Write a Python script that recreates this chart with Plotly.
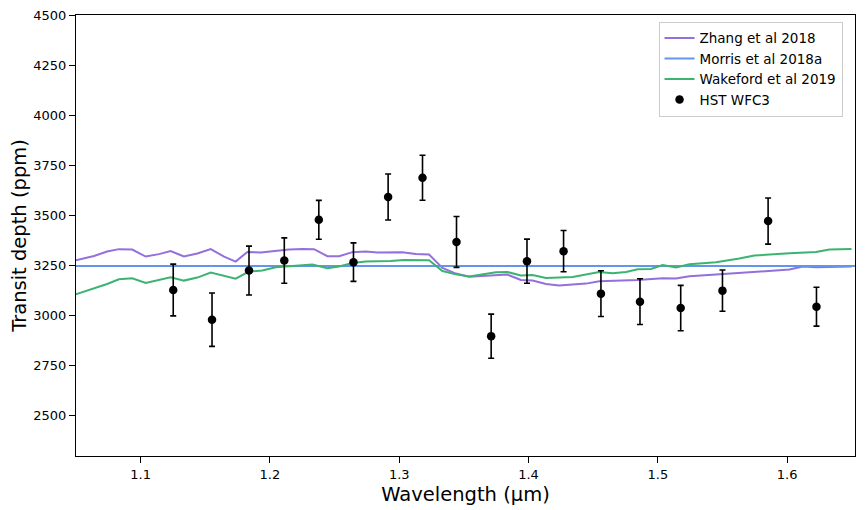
import plotly.graph_objects as go

# HST WFC3 spectrum
wave_obs = [1.1252, 1.1552, 1.1838, 1.2111, 1.2378, 1.2646, 1.2914, 1.3180, 1.3443,
            1.3711, 1.3988, 1.4271, 1.4560, 1.4862, 1.5177, 1.5500, 1.5853, 1.6227]
depth_obs = [3128, 2980, 3225, 3275, 3478, 3267, 3592, 3688, 3368,
             2898, 3272, 3322, 3110, 3070, 3038, 3125, 3472, 3045]
err_obs = [129, 133, 122, 113, 97, 96, 115, 112, 127,
           110, 110, 103, 114, 114, 113, 103, 115, 97]

# Zhang et al 2018 model
wave_zhang = [1.0491, 1.0639, 1.0741, 1.0832, 1.0935, 1.1039, 1.1142, 1.1232, 1.1335,
              1.1438, 1.1542, 1.1645, 1.1735, 1.1825, 1.1929, 1.2032, 1.2148, 1.2251,
              1.2341, 1.2444, 1.2535, 1.2638, 1.2741, 1.2831, 1.3025, 1.3128, 1.3231,
              1.3334, 1.3438, 1.3541, 1.3837, 1.3941, 1.4031, 1.4135, 1.4237, 1.4444,
              1.4547, 1.4844, 1.5037, 1.5141, 1.5244, 1.5450, 1.5708, 1.6018, 1.6121,
              1.6224, 1.6498]
depth_zhang = [3275, 3298, 3320, 3332, 3330, 3295, 3307, 3322, 3295,
               3310, 3332, 3295, 3270, 3318, 3315, 3323, 3330, 3333,
               3332, 3297, 3297, 3317, 3320, 3315, 3317, 3308, 3305,
               3238, 3210, 3194, 3205, 3178, 3175, 3158, 3150, 3160,
               3172, 3178, 3187, 3185, 3197, 3205, 3218, 3230, 3245,
               3242, 3245]

# Morris et al 2018a (flat line)
wave_morris = [1.05, 1.6525]
depth_morris = [3248, 3248]

# Wakeford et al 2019 model
wave_wake = [1.0491, 1.0600, 1.0741, 1.0832, 1.0935, 1.1039, 1.1129, 1.1232, 1.1335,
             1.1438, 1.1542, 1.1645, 1.1735, 1.1838, 1.1941, 1.2045, 1.2148, 1.2251,
             1.2328, 1.2444, 1.2535, 1.2638, 1.2741, 1.2831, 1.2934, 1.3037, 1.3128,
             1.3231, 1.3334, 1.3438, 1.3541, 1.3748, 1.3837, 1.3941, 1.4031, 1.4135,
             1.4341, 1.4547, 1.4650, 1.4754, 1.4844, 1.4947, 1.5037, 1.5141, 1.5244,
             1.5450, 1.5630, 1.5747, 1.6018, 1.6224, 1.6327, 1.6498]
depth_wake = [3105, 3128, 3158, 3182, 3187, 3163, 3175, 3192, 3175,
              3190, 3215, 3198, 3185, 3220, 3225, 3242, 3248, 3253,
              3255, 3237, 3245, 3263, 3270, 3272, 3273, 3278, 3277,
              3277, 3223, 3206, 3195, 3217, 3218, 3200, 3203, 3188,
              3193, 3218, 3212, 3218, 3232, 3233, 3253, 3240, 3257,
              3267, 3285, 3300, 3312, 3318, 3330, 3333]

font_family = 'DejaVu Sans'

fig = go.Figure()

fig.add_trace(go.Scatter(x=wave_zhang, y=depth_zhang, mode='lines', name='Zhang et al 2018',
                         line=dict(color='#9370DB', width=2)))
fig.add_trace(go.Scatter(x=wave_morris, y=depth_morris, mode='lines', name='Morris et al 2018a',
                         line=dict(color='#6495ED', width=2)))
fig.add_trace(go.Scatter(x=wave_wake, y=depth_wake, mode='lines', name='Wakeford et al 2019',
                         line=dict(color='#3CB371', width=2)))
fig.add_trace(go.Scatter(x=wave_obs, y=depth_obs, mode='markers', name='HST WFC3',
                         marker=dict(color='black', size=8.5),
                         error_y=dict(type='data', array=err_obs, visible=True,
                                      color='black', thickness=1.6, width=3)))

axis_style = dict(showline=True, linecolor='black', linewidth=1, mirror=True,
                  ticks='outside', ticklen=6, tickcolor='black', showgrid=False,
                  zeroline=False, automargin=False, ticklabeloverflow='allow',
                  tickfont=dict(size=13, color='black', family=font_family))

fig.update_layout(
    width=868, height=510,
    margin=dict(l=68, r=21, t=7, b=62),
    paper_bgcolor='white', plot_bgcolor='white',
    font=dict(family=font_family, color='black'),
    xaxis=dict(range=[1.05, 1.6525], tickvals=[1.1, 1.2, 1.3, 1.4, 1.5, 1.6],
               ticktext=['1.1', '1.2', '1.3', '1.4', '1.5', '1.6'],
               title=dict(text='Wavelength (µm)', font=dict(size=19.5), standoff=6),
               **axis_style),
    yaxis=dict(range=[2300, 4500], tickvals=list(range(2500, 4501, 250)),
               title=dict(text='Transit depth (ppm)', font=dict(size=19.5), standoff=8),
               **axis_style),
    legend=dict(x=0.984, xanchor='right', y=0.985, yanchor='top',
                bgcolor='white', bordercolor='#cccccc', borderwidth=1,
                itemwidth=30,
                font=dict(size=13.5, family=font_family), tracegroupgap=0),
    showlegend=True,
)

fig.write_html("out.html")
